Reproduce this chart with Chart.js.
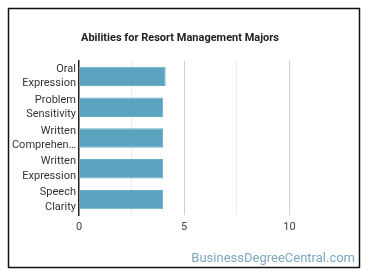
<!DOCTYPE html>
<html>
<head>
<meta charset="utf-8">
<script src="https://cdn.jsdelivr.net/npm/chart.js@4/dist/chart.umd.min.js"></script>
<style>
  html, body { margin: 0; padding: 0; background: #fff; }
  #wrap { width: 370px; height: 278px; position: relative; }
</style>
</head>
<body>
<div id="wrap"><canvas id="myBarChart" width="370" height="278"></canvas></div>
<script>
const categories = [
    ['Oral', 'Expression'],
    ['Problem', 'Sensitivity'],
    ['Written', 'Comprehen…'],
    ['Written', 'Expression'],
    ['Speech', 'Clarity']
];
const values = [4.12, 4.0, 4.0, 4.0, 4.0];
const xTickLabels = [0, 5, 10];

const titleText = 'Abilities for Resort Management Majors';
const sourceText = 'BusinessDegreeCentral.com';

const frame = {
    id: 'frame_and_texts',
    beforeDraw: (chart) => {
        const ctx = chart.ctx;
        ctx.save();
        ctx.fillStyle = '#fff';
        ctx.fillRect(0, 0, chart.width, chart.height);
        ctx.strokeStyle = '#111';
        ctx.lineWidth = 1.5;
        ctx.strokeRect(8.5, 8.5, 351, 259);
        ctx.restore();
    },
    afterDraw: (chart) => {
        const ctx = chart.ctx;
        ctx.save();
        ctx.fillStyle = '#222';
        ctx.font = 'bold 11px Roboto';
        ctx.textAlign = 'center';
        ctx.textBaseline = 'middle';
        ctx.fillText(titleText, 180, 38);
        ctx.fillStyle = '#7ea7c0';
        ctx.font = '13px Roboto';
        ctx.textAlign = 'right';
        ctx.textBaseline = 'alphabetic';
        ctx.fillText(sourceText, 355, 262);
        ctx.restore();
    }
};

const bar = document.getElementById('myBarChart');
const myBar = new Chart(bar, {
    type: 'bar',
    data: {
        labels: categories,
        datasets: [{
            data: values,
            backgroundColor: '#5ca3c0',
            borderColor: '#6aadc8',
            borderWidth: 1,
            categoryPercentage: 1,
            barPercentage: 0.63,
        }]
    },
    options: {
        indexAxis: 'y',
        responsive: false,
        animation: false,
        layout: {
            padding: {left: 0, right: 28, top: 61, bottom: 42}
        },
        plugins: {
            legend: false,
            title: {display: false},
            tooltip: {enabled: false},
        },
        scales: {
            x: {
                min: 0,
                max: 12.5,
                afterFit: (scale) => { scale.height = 21; },
                ticks: {
                    stepSize: 2.5,
                    padding: 6,
                    color: '#444',
                    autoSkip: false,
                    maxRotation: 0,
                    font: {family: 'Roboto', size: 11},
                    callback: (v) => xTickLabels.includes(v) ? String(v) : '',
                },
                grid: {
                    drawTicks: false,
                    color: (c) => {
                        const v = c.tick ? c.tick.value : 0;
                        if (v === 0 || v >= 12.5) return 'rgba(0,0,0,0)';
                        return xTickLabels.includes(v) ? '#cfcfcf' : '#ececec';
                    },
                },
                border: {display: false},
            },
            y: {
                afterFit: (scale) => { scale.width = 79; },
                ticks: {
                    padding: 3,
                    color: '#333',
                    autoSkip: false,
                    font: {family: 'Roboto', size: 11, lineHeight: 1.3},
                },
                grid: {
                    display: false,
                    drawTicks: false,
                },
                border: {display: true, color: '#222', width: 1.5},
            }
        }
    },
    plugins: [frame],
});
</script>
</body>
</html>
